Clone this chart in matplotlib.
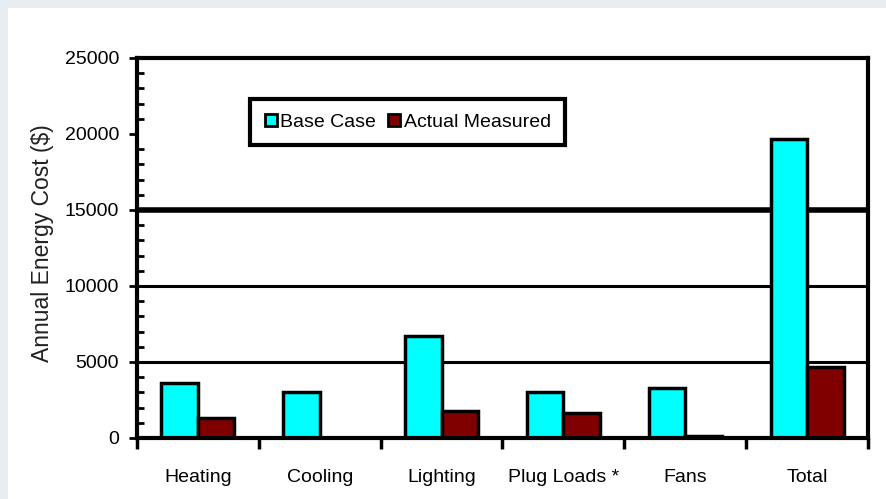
import numpy as np
import matplotlib
matplotlib.use("Agg")
import matplotlib.pyplot as plt
from matplotlib.patches import Patch, Rectangle
from matplotlib.ticker import MultipleLocator, FixedLocator

plt.rcParams['font.family'] = ['Liberation Sans', 'DejaVu Sans']

categories = ["Heating", "Cooling", "Lighting", "Plug Loads *", "Fans", "Total"]
base_case = [3600, 3000, 6700, 3000, 3300, 19700]
actual_measured = [1300, 0, 1800, 1650, 150, 4700]
y_label = "Annual Energy Cost ($)"
series_names = ["Base Case", "Actual Measured"]

cyan = "#00ffff"
maroon = "#800000"

fig = plt.figure(figsize=(8.87, 4.99), dpi=100, facecolor="#e8edf1")
# white panel inset from top/left edges
fig.patches.append(Rectangle((8 / 887, 0), 1, 1 - 8 / 499, transform=fig.transFigure,
                             facecolor="white", edgecolor="none", zorder=0))

ax = fig.add_axes([137 / 887, 1 - 438 / 499, 731 / 887, 380 / 499])
ax.set_zorder(2)
ax.set_facecolor("white")

x = np.arange(len(categories))
w = 0.3
ax.bar(x - w / 2, base_case, w, color=cyan, edgecolor="black", linewidth=2.5, zorder=3)
ax.bar(x + w / 2, actual_measured, w, color=maroon, edgecolor="black", linewidth=2.5, zorder=3)

ax.set_xlim(-0.5, len(categories) - 0.5)
ax.set_ylim(0, 25000)

# horizontal gridlines (the 15000 one is heavier in the source)
for val, lw in [(5000, 2.2), (10000, 2.2), (15000, 4)]:
    ax.axhline(val, color="black", linewidth=lw, zorder=1)

ax.yaxis.set_major_locator(MultipleLocator(5000))
ax.yaxis.set_minor_locator(MultipleLocator(1000))
ax.tick_params(axis="y", which="major", direction="out", length=6, width=2,
               labelsize=14, pad=7)
ax.tick_params(axis="y", which="minor", direction="in", length=5, width=2)

ax.xaxis.set_major_locator(FixedLocator(np.arange(len(categories) + 1) - 0.5))
ax.xaxis.set_minor_locator(FixedLocator(x))
ax.xaxis.set_major_formatter(plt.NullFormatter())
ax.set_xticklabels(categories, minor=True)
ax.tick_params(axis="x", which="major", direction="out", length=8, width=2.5)
ax.tick_params(axis="x", which="minor", length=0, labelsize=14, pad=22)

for s in ax.spines.values():
    s.set_linewidth(3)
    s.set_zorder(4)

ax.set_ylabel(y_label, fontsize=16.5, color="#222222")
ax.yaxis.set_label_coords(-0.114, 0.513)

handles = [Patch(facecolor=cyan, edgecolor="black", linewidth=2),
           Patch(facecolor=maroon, edgecolor="black", linewidth=2)]
leg = ax.legend(handles, series_names, loc="upper left", bbox_to_anchor=(0.155, 0.892),
                ncol=2, fontsize=14, fancybox=False, framealpha=1, edgecolor="black",
                handlelength=0.6, handleheight=0.6, handletextpad=0.2, columnspacing=0.6,
                borderpad=0.75, borderaxespad=0)
leg.get_frame().set_linewidth(3)
leg.set_zorder(5)

fig.savefig("out.png", dpi=100, facecolor=fig.get_facecolor())
